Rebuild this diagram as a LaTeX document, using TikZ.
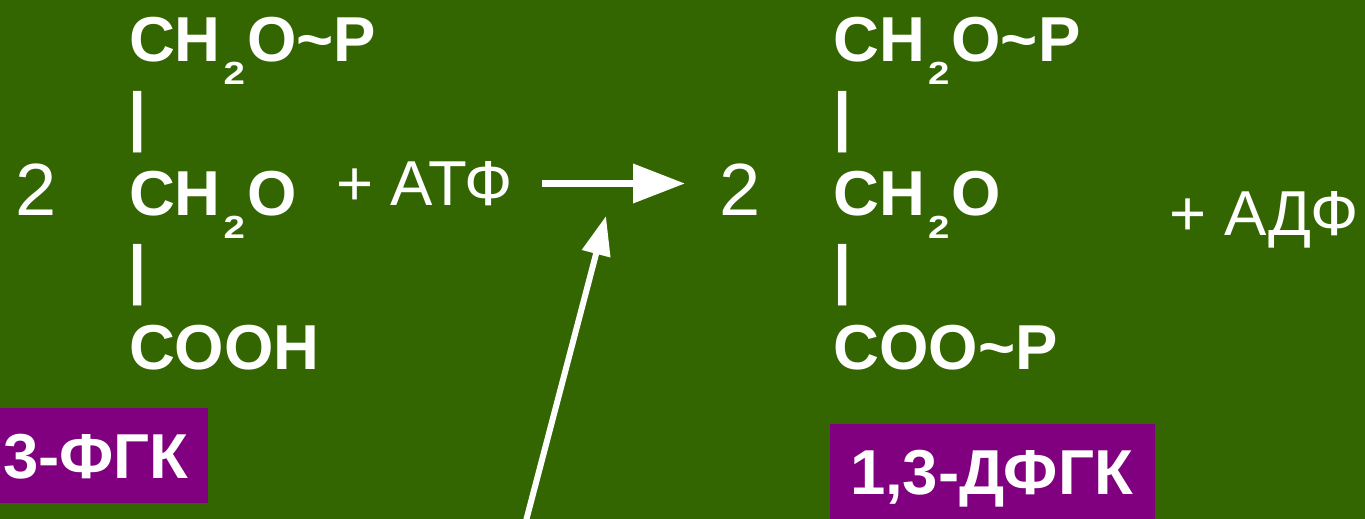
\documentclass[tikz,border=0pt]{standalone}
\usepackage{fontspec}
\setmainfont{Liberation Sans}
\usetikzlibrary{arrows.meta}
\definecolor{bggreen}{RGB}{51,102,0}
\definecolor{boxpurple}{RGB}{128,0,128}
\newcommand{\subtwo}{\hspace{3pt}\raisebox{-23pt}{\scalebox{1.2}[1]{\fontsize{32}{32}\selectfont 2}}\hspace{2pt}}
\begin{document}
\begin{tikzpicture}[x=1pt,y=-1pt,
  chem/.style={anchor=base west, inner sep=0pt, outer sep=0pt, text=white, font=\fontsize{63.5}{63.5}\selectfont\bfseries},
  bond/.style={anchor=base west, inner sep=0pt, outer sep=0pt, text=white, font=\fontsize{65}{65}\selectfont\bfseries},
  coef/.style={anchor=base west, inner sep=0pt, outer sep=0pt, text=white, font=\fontsize{74}{74}\selectfont},
  reag/.style={anchor=base west, inner sep=0pt, outer sep=0pt, text=white, font=\fontsize{63.5}{63.5}\selectfont},
  lbl/.style={anchor=base west, inner sep=0pt, outer sep=0pt, text=white, font=\fontsize{63.5}{63.5}\selectfont\bfseries},
  mainarrow/.style={draw=white, line width=7pt, -{Triangle[length=52pt,width=38pt]}},
  sidearrow/.style={draw=white, line width=6pt, -{Triangle[length=39pt,width=28pt]}}]
\useasboundingbox (0,0) rectangle (1365,519);
\fill[bggreen] (0,0) rectangle (1365,519);
% label boxes
\fill[boxpurple] (0,407.5) rectangle (208,503);
\fill[boxpurple] (830,424) rectangle (1155,530);
% left compound
\node[coef] (k1) at (16,215) {2};
\node[chem] (l1) at (129,62) {CH\subtwo O\textasciitilde P};
\node[bond] (lb1) at (128.5,138.5) {|};
\node[chem] (l2) at (129,215) {CH\subtwo O};
\node[bond] (lb2) at (128.5,291.5) {|};
\node[chem] (l3) at (129,369) {COOH};
\node[reag] (atp) at (336,205) {+ АТФ};
\node[lbl] (n1) at (3,478) {3-ФГК};
% right compound
\node[coef] (k2) at (719,215) {2};
\node[chem] (r1) at (833.5,62) {CH\subtwo O\textasciitilde P};
\node[bond] (rb1) at (833,138.5) {|};
\node[chem] (r2) at (833.5,215) {CH\subtwo O};
\node[bond] (rb2) at (833,291.5) {|};
\node[chem] (r3) at (833.5,369) {COO\textasciitilde P};
\node[reag] (adp) at (1169.5,235) {+ АДФ};
\node[lbl] (n2) at (850,494) {1,3-ДФГК};
% arrows
\coordinate (a1s) at (542,183.5);
\coordinate (a1e) at (685,183.5);
\draw[mainarrow] (a1s) -- (a1e);
\coordinate (a2s) at (523.6,530);
\coordinate (a2e) at (606,216);
\draw[sidearrow] (a2s) -- (a2e);
\end{tikzpicture}
\end{document}
